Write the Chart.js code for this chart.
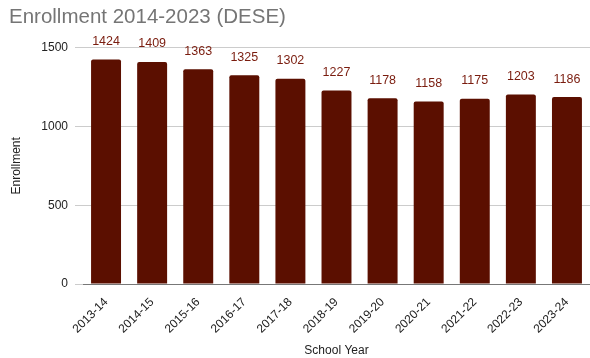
<!DOCTYPE html>
<html>
<head>
<meta charset="utf-8">
<script src="https://cdn.jsdelivr.net/npm/chart.js@4/dist/chart.umd.min.js"></script>
<style>
  html, body { margin: 0; padding: 0; background: #fff; }
</style>
</head>
<body>
<canvas id="chart" width="590" height="358"></canvas>
<script>
// podatki
const schoolYears = ["2013-14", "2014-15", "2015-16", "2016-17", "2017-18", "2018-19",
    "2019-20", "2020-21", "2021-22", "2022-23", "2023-24"];
const enrollment = [1424, 1409, 1363, 1325, 1302, 1227, 1178, 1158, 1175, 1203, 1186];
const yTicks = [0, 500, 1000, 1500];

const barColor = "#5b0f00";
const font = "'Liberation Sans', Arial, sans-serif";

// stevilke nad stolpci
const valueLabels = {
    id: "valueLabels",
    afterDatasetsDraw(chart) {
        const ctx = chart.ctx;
        const meta = chart.getDatasetMeta(0);
        ctx.save();
        ctx.font = "12.5px " + font;
        ctx.fillStyle = "#7a1c0e";
        ctx.textAlign = "center";
        ctx.textBaseline = "middle";
        meta.data.forEach((bar, i) => {
            ctx.fillText(enrollment[i], bar.x, bar.y - 18);
        });
        ctx.restore();
    }
};

new Chart(document.getElementById("chart"), {
    type: "bar",
    data: {
        labels: schoolYears,
        datasets: [
            {
                label: "Enrollment",
                data: enrollment,
                backgroundColor: barColor,
                borderRadius: 2,
                borderSkipped: "bottom",
                categoryPercentage: 1,
                barPercentage: 0.65,
            },
        ],
    },
    options: {
        responsive: false,
        animation: false,
        layout: { padding: { left: 9, right: 0, top: 0, bottom: 0 } },
        plugins: {
            legend: { display: false },
            tooltip: { enabled: false },
            title: {
                display: true,
                text: "Enrollment 2014-2023 (DESE)",
                align: "start",
                color: "#757575",
                font: { family: font, size: 20.5, weight: "normal" },
                padding: { top: 5, bottom: 18 },
            },
        },
        scales: {
            x: {
                afterFit: (scale) => {
                    scale.height = 74;
                },
                grid: { display: false },
                border: { color: "#777", width: 1 },
                ticks: {
                    color: "#222",
                    maxRotation: 45,
                    minRotation: 45,
                    autoSkip: false,
                    font: { family: font, size: 12 },
                },
                title: {
                    display: true,
                    text: "School Year",
                    color: "#222",
                    font: { family: font, size: 12 },
                    padding: { top: 6, bottom: 0 },
                },
            },
            y: {
                min: yTicks[0],
                max: yTicks[yTicks.length - 1],
                afterBuildTicks: (axis) => {
                    axis.ticks = yTicks.map((v) => ({ value: v }));
                },
                afterFit: (scale) => {
                    scale.width = 74;
                },
                grid: { color: "#ccc", drawTicks: true, tickLength: 8 },
                border: { display: false },
                ticks: {
                    color: "#222",
                    padding: 7,
                    autoSkip: false,
                    callback: (v) => String(v),
                    font: { family: font, size: 12 },
                },
                title: {
                    display: true,
                    text: "Enrollment",
                    color: "#222",
                    font: { family: font, size: 12 },
                    padding: { top: 0, bottom: 0 },
                },
            },
        },
    },
    plugins: [valueLabels],
});
</script>
</body>
</html>
